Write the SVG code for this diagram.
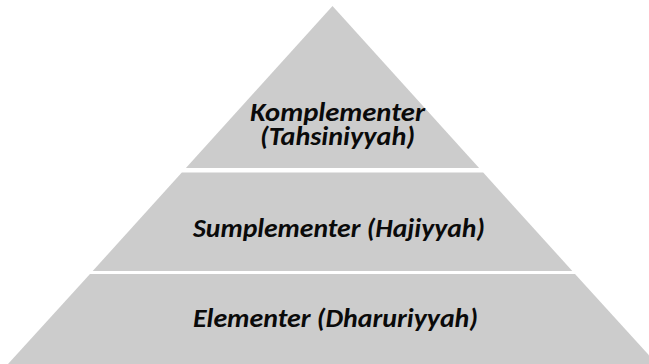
<svg xmlns="http://www.w3.org/2000/svg" width="649" height="364" viewBox="0 0 649 364">
  <style>
    .tier { fill: #cccccc; }
    .label { font-family: Carlito, "Liberation Sans", Arial, sans-serif; font-weight: bold; font-style: italic; font-size: 27px; fill: #0a0a0a; text-anchor: middle; }
  </style>
  <rect width="649" height="364" fill="#ffffff"/>

  <!-- top tier -->
  <g id="tier-komplementer">
    <polygon class="tier" points="332.5,6 479.1,168 185.9,168"/>
    <text class="label" x="337.5" y="121" textLength="175" lengthAdjust="spacingAndGlyphs">Komplementer</text>
    <text class="label" x="337.5" y="145" textLength="155" lengthAdjust="spacingAndGlyphs">(Tahsiniyyah)</text>
  </g>

  <!-- middle tier -->
  <g id="tier-sumplementer">
    <polygon class="tier" points="181.8,172.5 483.2,172.5 572.3,271 92.7,271"/>
    <text class="label" x="339" y="237" textLength="292" lengthAdjust="spacingAndGlyphs">Sumplementer (Hajiyyah)</text>
  </g>

  <!-- bottom tier -->
  <g id="tier-elementer">
    <polygon class="tier" points="90,274 575,274 657,364 8,364"/>
    <text class="label" x="335.5" y="327" textLength="285" lengthAdjust="spacingAndGlyphs">Elementer (Dharuriyyah)</text>
  </g>

  <g id="connectors"/>
</svg>
